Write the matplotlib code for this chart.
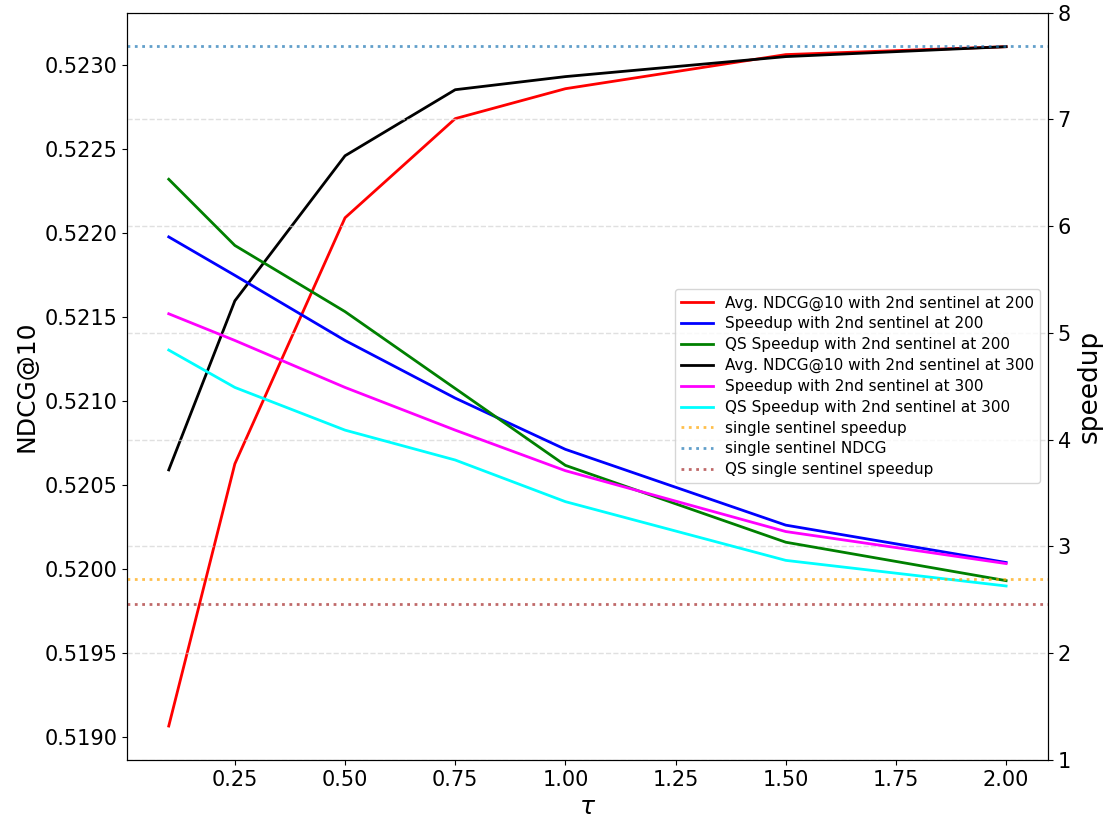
import matplotlib
matplotlib.use("Agg")
import matplotlib.pyplot as plt

tau = [0.1, 0.25, 0.5, 0.75, 1.0, 1.5, 2.0]

ndcg_200 = [0.519065, 0.520625, 0.522089, 0.522679, 0.522857, 0.523060, 0.523107]
speedup_200 = [5.90, 5.54, 4.93, 4.39, 3.91, 3.20, 2.85]
qs_speedup_200 = [6.44, 5.82, 5.20, 4.48, 3.76, 3.04, 2.68]
ndcg_300 = [0.520589, 0.521595, 0.522458, 0.522851, 0.522929, 0.523048, 0.523107]
speedup_300 = [5.18, 4.93, 4.49, 4.09, 3.71, 3.14, 2.84]
qs_speedup_300 = [4.84, 4.49, 4.09, 3.81, 3.42, 2.87, 2.63]

single_speedup = 2.70
single_ndcg = 0.523113
qs_single_speedup = 2.46

fig = plt.figure(figsize=(11.13, 8.21), dpi=100)
ax1 = fig.add_axes([0.114, 0.0743, 0.8276, 0.9102])
ax2 = ax1.twinx()

lw = 2.0
l1, = ax1.plot(tau, ndcg_200, color="red", lw=lw, label="Avg. NDCG@10 with 2nd sentinel at 200")
l2, = ax2.plot(tau, speedup_200, color="blue", lw=lw, label="Speedup with 2nd sentinel at 200")
l3, = ax2.plot(tau, qs_speedup_200, color="green", lw=lw, label="QS Speedup with 2nd sentinel at 200")
l4, = ax1.plot(tau, ndcg_300, color="black", lw=lw, label="Avg. NDCG@10 with 2nd sentinel at 300")
l5, = ax2.plot(tau, speedup_300, color="magenta", lw=lw, label="Speedup with 2nd sentinel at 300")
l6, = ax2.plot(tau, qs_speedup_300, color="cyan", lw=lw, label="QS Speedup with 2nd sentinel at 300")
l7 = ax2.axhline(single_speedup, color="orange", ls=":", lw=lw, alpha=0.7, label="single sentinel speedup")
l8 = ax1.axhline(single_ndcg, color="C0", ls=":", lw=lw, alpha=0.7, label="single sentinel NDCG")
l9 = ax2.axhline(qs_single_speedup, color="brown", ls=":", lw=lw, alpha=0.7, label="QS single sentinel speedup")

ax2.set_ylim(1, 8)
ax2.grid(axis="y", ls="--", color="lightgray", alpha=0.7, lw=1)

ax1.set_yticks([0.5190, 0.5195, 0.5200, 0.5205, 0.5210, 0.5215, 0.5220, 0.5225, 0.5230])
ax1.set_yticklabels(["0.5190", "0.5195", "0.5200", "0.5205", "0.5210", "0.5215", "0.5220", "0.5225", "0.5230"])
ax1.set_xticks([0.25, 0.5, 0.75, 1.0, 1.25, 1.5, 1.75, 2.0])
ax1.set_xticklabels(["0.25", "0.50", "0.75", "1.00", "1.25", "1.50", "1.75", "2.00"])
ax1.tick_params(labelsize=15)
ax2.tick_params(labelsize=15)

ax1.set_xlabel(r"$\tau$", fontsize=18)
ax1.set_ylabel("NDCG@10", fontsize=18)
ax2.set_ylabel("speedup", fontsize=19)

handles = [l1, l2, l3, l4, l5, l6, l7, l8, l9]
ax2.legend(handles, [h.get_label() for h in handles], loc="center right",
           fontsize=11, labelspacing=0.38, handlelength=2.1)

fig.savefig("out.png", dpi=100)
